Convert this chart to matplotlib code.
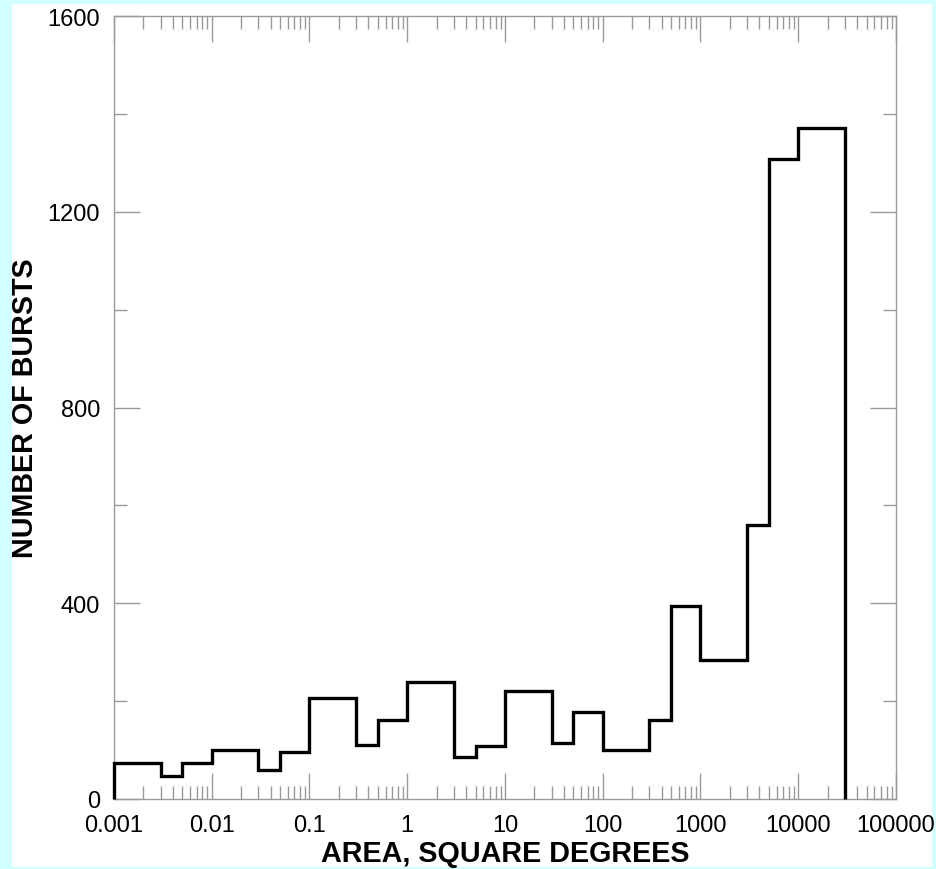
import numpy as np
import matplotlib
matplotlib.use("Agg")
import matplotlib.pyplot as plt
from matplotlib.ticker import FixedLocator, FixedFormatter, LogLocator, NullFormatter
from matplotlib.patches import Rectangle

# Data
bin_edges = [0.001, 0.003, 0.005, 0.01, 0.03, 0.05, 0.1, 0.3, 0.5, 1, 3, 5, 10,
             30, 50, 100, 300, 500, 1000, 3000, 5000, 10000, 30000]
burst_counts = [73, 46, 73, 100, 60, 97, 206, 111, 162, 239, 85, 108, 220,
                114, 178, 101, 162, 394, 285, 560, 1308, 1371]
x_ticks = [0.001, 0.01, 0.1, 1, 10, 100, 1000, 10000, 100000]
x_tick_labels = ["0.001", "0.01", "0.1", "1", "10", "100", "1000", "10000", "100000"]
y_ticks = [0, 400, 800, 1200, 1600]
y_tick_labels = ["0", "400", "800", "1200", "1600"]
y_minor = [200, 600, 1000, 1400]

plt.rcParams['font.family'] = ['Liberation Sans', 'DejaVu Sans']

W, H = 937, 870
fig = plt.figure(figsize=(W / 100, H / 100), dpi=100)
fig.patch.set_facecolor('#d2ffff')
fig.patches.append(Rectangle((12 / W, (H - 868) / H), (932 - 12) / W, (868 - 5) / H,
                             transform=fig.transFigure, facecolor='white',
                             edgecolor='none', zorder=-10))

ax = fig.add_axes([114 / W, (H - 800) / H, 782 / W, 783 / H])
ax.set_zorder(5)
ax.set_facecolor('white')
ax.stairs(burst_counts, bin_edges, baseline=0, color='black', linewidth=2.4,
          clip_on=False, zorder=3)

ax.set_xscale('log')
ax.set_xlim(0.001, 100000)
ax.set_ylim(0, 1600)

ax.xaxis.set_major_locator(FixedLocator(x_ticks))
ax.xaxis.set_major_formatter(FixedFormatter(x_tick_labels))
ax.xaxis.set_minor_locator(LogLocator(base=10, subs=np.arange(2, 10), numticks=100))
ax.xaxis.set_minor_formatter(NullFormatter())
ax.yaxis.set_major_locator(FixedLocator(y_ticks))
ax.yaxis.set_major_formatter(FixedFormatter(y_tick_labels))
ax.yaxis.set_minor_locator(FixedLocator(y_minor))

gray = '#9a9a9a'
for s in ax.spines.values():
    s.set_color(gray)
    s.set_linewidth(1.0)

ax.tick_params(which='both', direction='in', top=True, right=True, color=gray,
               width=1.0, labelsize=17, labelcolor='black')
ax.tick_params(which='major', length=18.7)
ax.tick_params(which='minor', length=9.4)
ax.tick_params(axis='x', which='major', pad=11)
ax.tick_params(axis='y', which='major', pad=10)

ax.set_xlabel('AREA, SQUARE DEGREES', fontsize=20.7, fontweight='bold', labelpad=2)
ax.set_ylabel('NUMBER OF BURSTS', fontsize=20.7, fontweight='bold', labelpad=6)

fig.savefig('out.png', dpi=100, facecolor=fig.get_facecolor())
